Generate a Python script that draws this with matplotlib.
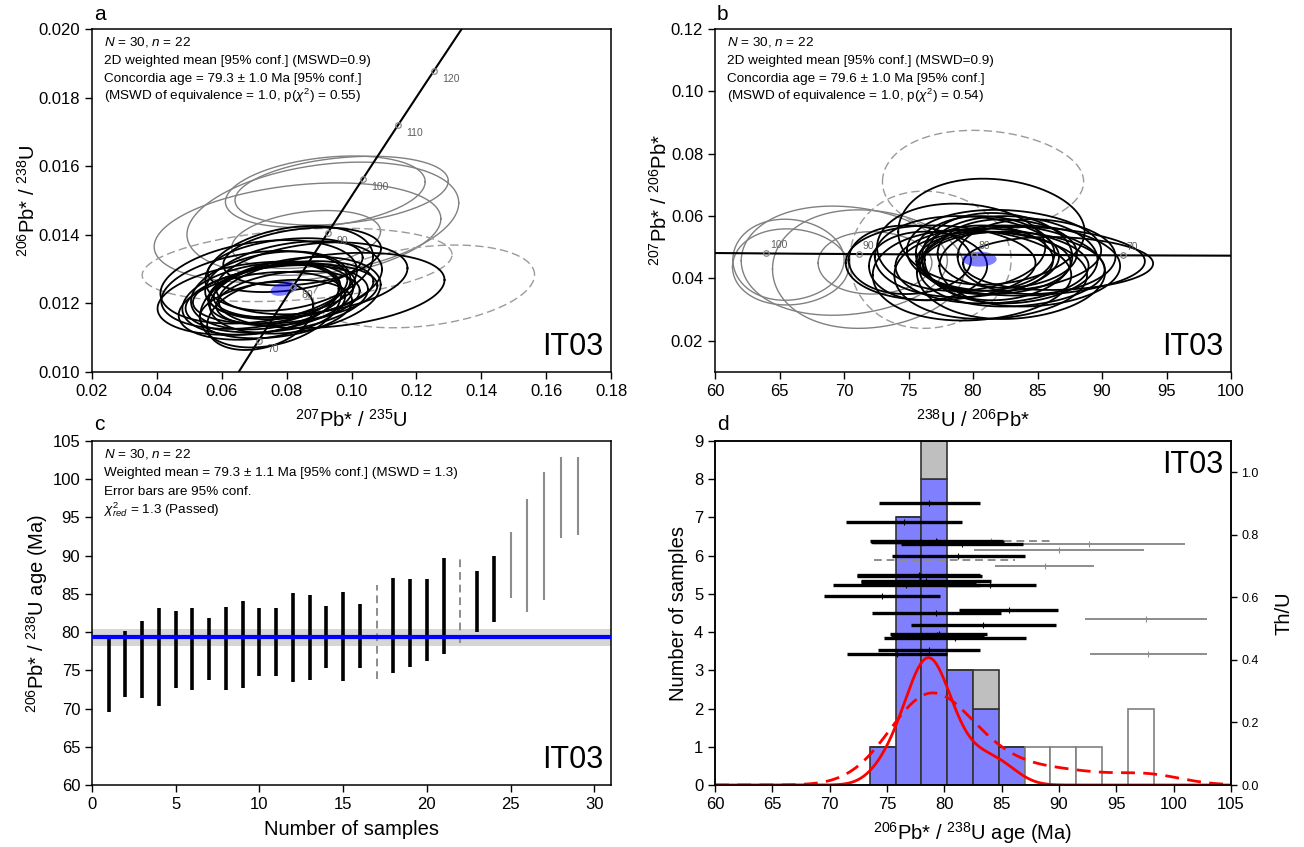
import numpy as np
import matplotlib
matplotlib.use("Agg")
import matplotlib.pyplot as plt
from matplotlib.ticker import FormatStrFormatter, MultipleLocator

plt.rcParams["font.family"] = ["Liberation Sans", "DejaVu Sans"]
plt.rcParams["mathtext.fontset"] = "custom"
plt.rcParams["mathtext.rm"] = "Liberation Sans"
plt.rcParams["mathtext.it"] = "Liberation Sans:italic"
plt.rcParams["mathtext.bf"] = "Liberation Sans:bold"
plt.rcParams["axes.linewidth"] = 1.1

# ---------------- grain data (sorted by 206Pb*/238U age) ----------------
age_ma = [74.55, 75.85, 76.45, 76.70, 77.75, 77.75, 77.85, 77.85, 78.40, 78.70,
          78.65, 79.30, 79.30, 79.40, 79.40, 79.50, 80.05, 80.90, 81.20, 81.55,
          83.40, 84.05, 84.00, 85.60, 88.75, 90.00, 92.60, 97.60, 97.80]
age_err95 = [5.05, 4.35, 5.05, 6.40, 5.00, 5.35, 4.05, 5.45, 5.70, 4.40,
             4.45, 5.80, 5.60, 4.05, 5.80, 4.20, 6.15, 6.20, 5.80, 5.35,
             6.30, 5.45, 4.00, 4.30, 4.30, 7.40, 8.40, 5.30, 5.10]
status = ["acc"] * 16 + ["excl"] + ["acc"] * 4 + ["excl"] + ["acc"] * 2 + ["rej"] * 5
# 207Pb*/206Pb* and half-height of the 95% ellipse
pb76 = [0.0448, 0.0470, 0.0440, 0.0455, 0.0460, 0.0430, 0.0480, 0.0420, 0.0490, 0.0450,
        0.0470, 0.0440, 0.0550, 0.0460, 0.0410, 0.0480, 0.0710, 0.0410, 0.0470, 0.0500,
        0.0450, 0.0460, 0.0440, 0.0460, 0.0450, 0.0430, 0.0457, 0.0437, 0.0460]
pb76_err = [0.0085, 0.0120, 0.0130, 0.0110, 0.0140, 0.0120, 0.0110, 0.0150, 0.0130, 0.0100,
            0.0140, 0.0120, 0.0170, 0.0110, 0.0140, 0.0120, 0.0165, 0.0145, 0.0130, 0.0140,
            0.0120, 0.0220, 0.0110, 0.0110, 0.0100, 0.0190, 0.0175, 0.0122, 0.0130]
th_u = [0.603, 0.420, 0.841, 0.640, 0.648, 0.670, 0.776, 0.668, 0.651, 0.901,
        0.431, 0.781, 0.551, 0.481, 0.776, 0.484, 0.721, 0.471, 0.731, 0.771,
        0.511, 0.781, 0.640, 0.560, 0.700, 0.750, 0.771, 0.530, 0.420]
# 207Pb/235U uncertainty relative to the 207Pb/206Pb one, and the error correlation
r75_err_ratio = 1.2
rho_wetherill = 0.28

# summary statistics
wmean_age, wmean_err = 79.3, 1.1
conc_age, conc_age_half = 79.6, 1.3
conc_pb76, conc_pb76_half = 0.0462, 0.0024
concordia_marks = [70, 80, 90, 100, 110, 120]

# histogram / KDE settings
bin_start, bin_width, n_bins = 73.5, 2.25, 11
kde_bw_accepted, kde_bw_all, kde_scale = 1.5, 3.0, 1.0

# decay constants (per Ma) and present-day 238U/235U
LAMBDA238 = 1.55125e-4
LAMBDA235 = 9.8485e-4
U238_U235 = 137.88
ELLIPSE_K = 2.4477 / 1.96

age_ma = np.array(age_ma)
age_err95 = np.array(age_err95)
status = np.array(status)
th_u = np.array(th_u)

W, H = 1304, 847
fig = plt.figure(figsize=(W / 100, H / 100), dpi=100)


def frac(left, top, right, bottom):
    return [left / W, 1 - bottom / H, (right - left) / W, (bottom - top) / H]


ax_a = fig.add_axes(frac(92, 29, 611, 372))
ax_b = fig.add_axes(frac(715, 29, 1231, 372))
ax_c = fig.add_axes(frac(92, 441, 611, 785))
ax_d = fig.add_axes(frac(715, 441, 1231, 785))

TICK_FS, LABEL_FS, NOTE_FS, TAG_FS = 12, 14.5, 9.7, 22
for ax in (ax_a, ax_b, ax_c, ax_d):
    ax.tick_params(labelsize=TICK_FS, length=5, width=1.0)

theta = np.linspace(0, 2 * np.pi, 240)


def wetherill_ellipse(age, age_half, y, y_half, rho, err_ratio):
    r206c = np.expm1(LAMBDA238 * age)
    sy = (np.expm1(LAMBDA238 * (age + age_half)) - np.expm1(LAMBDA238 * (age - age_half))) / 2
    r207c = U238_U235 * y * r206c
    sx = U238_U235 * y_half * r206c * err_ratio
    xs = r207c + sx * np.cos(theta)
    ys = r206c + sy * (rho * np.cos(theta) + np.sqrt(1 - rho ** 2) * np.sin(theta))
    return xs, ys


def tera_wasserburg_ellipse(age, age_half, y, y_half):
    t = age + age_half * np.cos(theta)
    yy = y + y_half * np.sin(theta)
    return 1.0 / np.expm1(LAMBDA238 * t), yy


styles = {
    "rej": dict(color="#808080", lw=1.0, ls="-", zorder=2),
    "excl": dict(color="#9a9a9a", lw=1.0, ls=(0, (6, 3)), zorder=2),
    "acc": dict(color="black", lw=1.3, ls="-", zorder=3),
}
for kind in ("rej", "excl", "acc"):
    for i in np.where(status == kind)[0]:
        half = age_err95[i] * ELLIPSE_K
        ax_a.plot(*wetherill_ellipse(age_ma[i], half, pb76[i], pb76_err[i],
                                     rho_wetherill, r75_err_ratio), **styles[kind])
        ax_b.plot(*tera_wasserburg_ellipse(age_ma[i], half, pb76[i], pb76_err[i]), **styles[kind])

# weighted-mean ellipses
ax_a.fill(*wetherill_ellipse(conc_age, conc_age_half, conc_pb76, conc_pb76_half, 0.35, 1.0),
          color=(0, 0, 1, 0.5), lw=0, zorder=4)
ax_b.fill(*tera_wasserburg_ellipse(conc_age, conc_age_half, conc_pb76, conc_pb76_half),
          color=(0, 0, 1, 0.5), lw=0, zorder=4)

# concordia curves
tc = np.linspace(40, 160, 400)
c206 = np.expm1(LAMBDA238 * tc)
c207 = np.expm1(LAMBDA235 * tc)
ax_a.plot(c207, c206, color="black", lw=1.5, zorder=5)
ax_b.plot(1 / c206, c207 / c206 / U238_U235, color="black", lw=1.5, zorder=5)

tm = np.array(concordia_marks, dtype=float)
m206 = np.expm1(LAMBDA238 * tm)
m207 = np.expm1(LAMBDA235 * tm)
ax_a.plot(m207, m206, "o", ms=4, mfc="none", mec="#888888", mew=0.9, zorder=6)
ax_b.plot(1 / m206, m207 / m206 / U238_U235, "o", ms=4, mfc="none", mec="#888888", mew=0.9, zorder=6)
for t, x, y in zip(concordia_marks, m207, m206):
    ax_a.annotate(f"{t}", (x, y), xytext=(6, -6), textcoords="offset points",
                  fontsize=7.5, color="#606060", ha="left", va="center", zorder=6)
for t, x, y in zip(concordia_marks, 1 / m206, m207 / m206 / U238_U235):
    if 60 <= x <= 100:
        ax_b.annotate(f"{t}", (x, y), xytext=(3, 6), textcoords="offset points",
                      fontsize=7.5, color="#606060", ha="left", va="center", zorder=6)

ax_a.set_xlim(0.02, 0.18)
ax_a.set_ylim(0.010, 0.020)
ax_a.xaxis.set_major_locator(MultipleLocator(0.02))
ax_a.yaxis.set_major_locator(MultipleLocator(0.002))
ax_a.xaxis.set_major_formatter(FormatStrFormatter("%.2f"))
ax_a.yaxis.set_major_formatter(FormatStrFormatter("%.3f"))
ax_a.set_xlabel(r"$^{207}$Pb* / $^{235}$U", fontsize=LABEL_FS, labelpad=7)
ax_a.set_ylabel(r"$^{206}$Pb* / $^{238}$U", fontsize=LABEL_FS, labelpad=0)

ax_b.set_xlim(60, 100)
ax_b.set_ylim(0.01, 0.12)
ax_b.xaxis.set_major_locator(MultipleLocator(5))
ax_b.yaxis.set_major_locator(MultipleLocator(0.02))
ax_b.yaxis.set_major_formatter(FormatStrFormatter("%.2f"))
ax_b.set_xlabel(r"$^{238}$U / $^{206}$Pb*", fontsize=LABEL_FS, labelpad=7)
ax_b.set_ylabel(r"$^{207}$Pb* / $^{206}$Pb*", fontsize=LABEL_FS, labelpad=0)


def note(ax, lines, step=18.2):
    for k, line in enumerate(lines):
        ax.annotate(line, xy=(0, 1), xycoords="axes fraction", xytext=(12, -16.5 - step * k),
                    textcoords="offset pixels", fontsize=NOTE_FS, ha="left", va="baseline")


note(ax_a, ["$N$ = 30, $n$ = 22", "2D weighted mean [95% conf.] (MSWD=0.9)",
            "Concordia age = 79.3 ± 1.0 Ma [95% conf.]",
            "(MSWD of equivalence = 1.0, p($\\chi^2$) = 0.55)"])
note(ax_b, ["$N$ = 30, $n$ = 22", "2D weighted mean [95% conf.] (MSWD=0.9)",
            "Concordia age = 79.6 ± 1.0 Ma [95% conf.]",
            "(MSWD of equivalence = 1.0, p($\\chi^2$) = 0.54)"])
for ax in (ax_a, ax_b):
    ax.text(0.985, 0.03, "IT03", transform=ax.transAxes, fontsize=TAG_FS, ha="right", va="bottom")

# ---------------- panel c: ranked ages ----------------
idx = np.arange(1, len(age_ma) + 1)
ax_c.axhspan(wmean_age - wmean_err, wmean_age + wmean_err, color="#d6d6d6", lw=0, zorder=0)
bar_styles = {
    "acc": dict(color="black", lw=2.6, ls="-"),
    "excl": dict(color="#8c8c8c", lw=1.4, ls=(0, (4, 2.5))),
    "rej": dict(color="#8c8c8c", lw=1.5, ls="-"),
}
for kind, kw in bar_styles.items():
    m = status == kind
    ax_c.vlines(idx[m], age_ma[m] - age_err95[m], age_ma[m] + age_err95[m], zorder=2, **kw)
ax_c.axhline(wmean_age, color="blue", lw=3, zorder=3)
ax_c.set_xlim(0, 31)
ax_c.set_ylim(60, 105)
ax_c.xaxis.set_major_locator(MultipleLocator(5))
ax_c.yaxis.set_major_locator(MultipleLocator(5))
ax_c.set_xlabel("Number of samples", fontsize=LABEL_FS, labelpad=6)
ax_c.set_ylabel(r"$^{206}$Pb* / $^{238}$U age (Ma)", fontsize=LABEL_FS, labelpad=2)
note(ax_c, ["$N$ = 30, $n$ = 22",
            "Weighted mean = 79.3 ± 1.1 Ma [95% conf.] (MSWD = 1.3)",
            "Error bars are 95% conf.", "$\\chi^2_{red}$ = 1.3 (Passed)"], step=18.8)
ax_c.text(0.985, 0.03, "IT03", transform=ax_c.transAxes, fontsize=TAG_FS, ha="right", va="bottom")

# ---------------- panel d: histogram, KDE and Th/U ----------------
edges = bin_start + bin_width * np.arange(n_bins + 1)
acc_ages = age_ma[status == "acc"]
excl_ages = age_ma[status == "excl"]
rej_ages = age_ma[status == "rej"]
ax_d.hist([acc_ages, excl_ages], bins=edges, stacked=True, color=["#8080ff", "#bfbfbf"],
          edgecolor="#333333", linewidth=1.2, zorder=1)
ax_d.hist(rej_ages, bins=edges, facecolor="white", edgecolor="#808080", linewidth=1.2, zorder=1)


def kde(x, data, bw):
    d = (x[:, None] - np.asarray(data)[None, :]) / bw
    return np.exp(-0.5 * d ** 2).sum(axis=1) / (bw * np.sqrt(2 * np.pi))


xg = np.linspace(60, 105, 500)
ax_d.plot(xg, kde_scale * kde(xg, acc_ages, kde_bw_accepted), color="red", lw=2, zorder=3)
ax_d.plot(xg, kde_scale * kde(xg, age_ma, kde_bw_all), color="red", lw=2,
          ls=(0, (5, 3)), zorder=3)
ax_d.set_xlim(60, 105)
ax_d.set_ylim(0, 9)
ax_d.xaxis.set_major_locator(MultipleLocator(5))
ax_d.yaxis.set_major_locator(MultipleLocator(1))
ax_d.set_xlabel(r"$^{206}$Pb* / $^{238}$U age (Ma)", fontsize=LABEL_FS, labelpad=6)
ax_d.set_ylabel("Number of samples", fontsize=LABEL_FS)

ax_t = ax_d.twinx()
ax_t.set_ylim(0, 1.1)
ax_t.yaxis.set_major_locator(MultipleLocator(0.2))
ax_t.yaxis.set_major_formatter(FormatStrFormatter("%.1f"))
ax_t.tick_params(labelsize=9, length=4, width=1.0)
ax_t.set_ylabel("Th/U", fontsize=LABEL_FS, labelpad=11)
thu_styles = {
    "rej": dict(color="#8c8c8c", lw=1.4, ls="-"),
    "excl": dict(color="#8c8c8c", lw=1.4, ls=(0, (4, 2.5))),
    "acc": dict(color="black", lw=2.4, ls="-"),
}
for kind in ("rej", "excl", "acc"):
    m = status == kind
    ax_t.hlines(th_u[m], age_ma[m] - age_err95[m], age_ma[m] + age_err95[m], zorder=2,
                **thu_styles[kind])
    ax_t.plot(age_ma[m], th_u[m], "|", ms=4, color=thu_styles[kind]["color"], mew=0.8)
ax_t.text(0.985, 0.975, "IT03", transform=ax_t.transAxes, fontsize=TAG_FS, ha="right", va="top")

for lab, x, y in (("a", 94, 14), ("b", 717, 14), ("c", 94, 424), ("d", 717, 424)):
    fig.text(x / W, 1 - y / H, lab, fontsize=15, ha="left", va="center")

fig.savefig("out.png", dpi=100)
